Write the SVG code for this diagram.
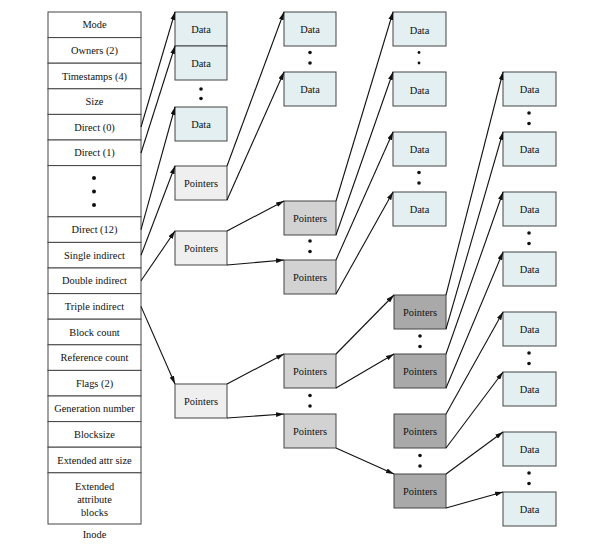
<svg xmlns="http://www.w3.org/2000/svg" width="600" height="544" viewBox="0 0 600 544">
<defs>
<marker id="ah" viewBox="0 0 10 6" refX="10" refY="3" markerWidth="8" markerHeight="5" markerUnits="userSpaceOnUse" orient="auto">
<path d="M0,0 L10,3 L0,6 z" fill="#111"/>
</marker>
</defs>
<style>
text{font-family:"Liberation Serif","Times New Roman",serif;font-size:10.4px;fill:#111;text-anchor:middle;dominant-baseline:central}
.row{fill:#fff;stroke:#444;stroke-width:1}
.data{fill:#e3eff0;stroke:#444;stroke-width:1}
.p1{fill:#efefef;stroke:#444;stroke-width:1}
.p2{fill:#d2d2d2;stroke:#444;stroke-width:1}
.p3{fill:#a9a9a9;stroke:#444;stroke-width:1}
.dot{fill:#111}
.c{stroke:#111;stroke-width:1.1;fill:none;marker-end:url(#ah)}
</style>
<rect width="600" height="544" fill="#fff"/>

<g id="inode">
<rect class="row" x="48" y="12" width="93" height="25.6"/><text x="94.5" y="24.8">Mode</text>
<rect class="row" x="48" y="37.6" width="93" height="25.6"/><text x="94.5" y="50.4">Owners (2)</text>
<rect class="row" x="48" y="63.2" width="93" height="25.6"/><text x="94.5" y="76">Timestamps (4)</text>
<rect class="row" x="48" y="88.8" width="93" height="25.6"/><text x="94.5" y="101.6">Size</text>
<rect class="row" x="48" y="114.4" width="93" height="25.6"/><text x="94.5" y="127.2">Direct (0)</text>
<rect class="row" x="48" y="140" width="93" height="25.6"/><text x="94.5" y="152.8">Direct (1)</text>
<rect class="row" x="48" y="165.6" width="93" height="51.2"/>
<circle class="dot" cx="94" cy="178" r="2"/><circle class="dot" cx="94" cy="191.5" r="2"/><circle class="dot" cx="94" cy="205" r="2"/>
<rect class="row" x="48" y="216.8" width="93" height="25.6"/><text x="94.5" y="229.6">Direct (12)</text>
<rect class="row" x="48" y="242.4" width="93" height="25.6"/><text x="94.5" y="255.2">Single indirect</text>
<rect class="row" x="48" y="268" width="93" height="25.6"/><text x="94.5" y="280.8">Double indirect</text>
<rect class="row" x="48" y="293.6" width="93" height="25.6"/><text x="94.5" y="306.4">Triple indirect</text>
<rect class="row" x="48" y="319.2" width="93" height="25.6"/><text x="94.5" y="332">Block count</text>
<rect class="row" x="48" y="344.8" width="93" height="25.6"/><text x="94.5" y="357.6">Reference count</text>
<rect class="row" x="48" y="370.4" width="93" height="25.6"/><text x="94.5" y="383.2">Flags (2)</text>
<rect class="row" x="48" y="396" width="93" height="25.6"/><text x="94.5" y="408.8">Generation number</text>
<rect class="row" x="48" y="421.6" width="93" height="25.6"/><text x="94.5" y="434.4">Blocksize</text>
<rect class="row" x="48" y="447.2" width="93" height="25.6"/><text x="94.5" y="460">Extended attr size</text>
<rect class="row" x="48" y="472.8" width="93" height="51.2"/>
<text x="94.5" y="486">Extended</text><text x="94.5" y="499">attribute</text><text x="94.5" y="512">blocks</text>
<text x="94.5" y="534">Inode</text>
</g>

<g id="col1">
<g id="d1a"><rect class="data" x="175" y="12" width="52" height="34"/><text x="201" y="29">Data</text></g>
<g id="d1b"><rect class="data" x="175" y="46" width="52" height="34"/><text x="201" y="63">Data</text></g>
<circle class="dot" cx="201" cy="89" r="1.8"/><circle class="dot" cx="201" cy="98.5" r="1.8"/>
<g id="d1c"><rect class="data" x="175" y="107" width="52" height="34"/><text x="201" y="124">Data</text></g>
<g id="p1a"><rect class="p1" x="175" y="166" width="52" height="34"/><text x="201" y="183">Pointers</text></g>
<g id="p1b"><rect class="p1" x="175" y="231" width="52" height="34"/><text x="201" y="248">Pointers</text></g>
<g id="p1c"><rect class="p1" x="175" y="384" width="52" height="34"/><text x="201" y="401">Pointers</text></g>
</g>

<g id="col2">
<g id="d2a"><rect class="data" x="284" y="12" width="52" height="34"/><text x="310" y="29">Data</text></g>
<circle class="dot" cx="310" cy="52.5" r="1.8"/><circle class="dot" cx="310" cy="63" r="1.8"/>
<g id="d2b"><rect class="data" x="284" y="72" width="52" height="34"/><text x="310" y="89">Data</text></g>
<g id="p2a"><rect class="p2" x="284" y="201" width="52" height="34"/><text x="310" y="218">Pointers</text></g>
<circle class="dot" cx="310" cy="241" r="1.8"/><circle class="dot" cx="310" cy="251.5" r="1.8"/>
<g id="p2b"><rect class="p2" x="284" y="260" width="52" height="34"/><text x="310" y="277">Pointers</text></g>
<g id="p2c"><rect class="p2" x="284" y="354" width="52" height="34"/><text x="310" y="371">Pointers</text></g>
<circle class="dot" cx="310" cy="395.5" r="1.8"/><circle class="dot" cx="310" cy="406" r="1.8"/>
<g id="p2d"><rect class="p2" x="284" y="414" width="52" height="34"/><text x="310" y="431">Pointers</text></g>
</g>

<g id="col3">
<g id="d3a"><rect class="data" x="393" y="12" width="53" height="34"/><text x="419.5" y="30">Data</text></g>
<circle class="dot" cx="419" cy="52.5" r="1.4"/><circle class="dot" cx="419" cy="63" r="1.4"/>
<g id="d3b"><rect class="data" x="393" y="72" width="53" height="34"/><text x="419.5" y="90">Data</text></g>
<g id="d3c"><rect class="data" x="393" y="132" width="53" height="34"/><text x="419.5" y="149">Data</text></g>
<circle class="dot" cx="419" cy="172.5" r="1.8"/><circle class="dot" cx="419" cy="183" r="1.8"/>
<g id="d3d"><rect class="data" x="393" y="192" width="53" height="34"/><text x="419.5" y="209">Data</text></g>
<g id="p3a"><rect class="p3" x="394" y="295" width="52" height="34"/><text x="420" y="312">Pointers</text></g>
<circle class="dot" cx="420" cy="336" r="1.8"/><circle class="dot" cx="420" cy="346.5" r="1.8"/>
<g id="p3b"><rect class="p3" x="394" y="354" width="52" height="34"/><text x="420" y="371">Pointers</text></g>
<g id="p3c"><rect class="p3" x="394" y="414" width="52" height="34"/><text x="420" y="431">Pointers</text></g>
<circle class="dot" cx="420" cy="455.5" r="1.8"/><circle class="dot" cx="420" cy="466" r="1.8"/>
<g id="p3d"><rect class="p3" x="394" y="474" width="52" height="34"/><text x="420" y="491">Pointers</text></g>
</g>

<g id="col4">
<g id="d4a"><rect class="data" x="503" y="72" width="53" height="34"/><text x="529.5" y="89">Data</text></g>
<circle class="dot" cx="529" cy="113" r="1.8"/><circle class="dot" cx="529" cy="123.5" r="1.8"/>
<g id="d4b"><rect class="data" x="503" y="132" width="53" height="34"/><text x="529.5" y="149">Data</text></g>
<g id="d4c"><rect class="data" x="503" y="192" width="53" height="34"/><text x="529.5" y="209">Data</text></g>
<circle class="dot" cx="529" cy="233" r="1.8"/><circle class="dot" cx="529" cy="243.5" r="1.8"/>
<g id="d4d"><rect class="data" x="503" y="252" width="53" height="34"/><text x="529.5" y="269">Data</text></g>
<g id="d4e"><rect class="data" x="503" y="312" width="53" height="34"/><text x="529.5" y="329">Data</text></g>
<circle class="dot" cx="529" cy="353" r="1.8"/><circle class="dot" cx="529" cy="363.5" r="1.8"/>
<g id="d4f"><rect class="data" x="503" y="372" width="53" height="34"/><text x="529.5" y="389">Data</text></g>
<g id="d4g"><rect class="data" x="503" y="432" width="53" height="34"/><text x="529.5" y="449">Data</text></g>
<circle class="dot" cx="529" cy="473" r="1.8"/><circle class="dot" cx="529" cy="483.5" r="1.8"/>
<g id="d4h"><rect class="data" x="503" y="492" width="53" height="34"/><text x="529.5" y="509">Data</text></g>
</g>

<g id="connectors">
<line class="c" x1="141" y1="127" x2="175" y2="12"/>
<line class="c" x1="141" y1="153" x2="175" y2="46"/>
<line class="c" x1="141" y1="229.6" x2="175" y2="107"/>
<line class="c" x1="141" y1="255.2" x2="175" y2="166"/>
<line class="c" x1="141" y1="280.8" x2="175" y2="231"/>
<line class="c" x1="141" y1="306.4" x2="175" y2="384"/>
<line class="c" x1="227" y1="166" x2="284" y2="12"/>
<line class="c" x1="227" y1="200" x2="284" y2="72"/>
<line class="c" x1="227" y1="231" x2="284" y2="201"/>
<line class="c" x1="227" y1="265" x2="284" y2="260"/>
<line class="c" x1="227" y1="384" x2="284" y2="354"/>
<line class="c" x1="227" y1="418" x2="284" y2="414"/>
<line class="c" x1="336" y1="201" x2="393" y2="12"/>
<line class="c" x1="336" y1="235" x2="393" y2="72"/>
<line class="c" x1="336" y1="260" x2="393" y2="132"/>
<line class="c" x1="336" y1="294" x2="393" y2="192"/>
<line class="c" x1="336" y1="354" x2="394" y2="295"/>
<line class="c" x1="336" y1="388" x2="394" y2="354"/>
<line class="c" x1="336" y1="448" x2="394" y2="474"/>
<line class="c" x1="446" y1="295" x2="503" y2="72"/>
<line class="c" x1="446" y1="329" x2="503" y2="132"/>
<line class="c" x1="446" y1="354" x2="503" y2="192"/>
<line class="c" x1="446" y1="388" x2="503" y2="252"/>
<line class="c" x1="446" y1="414" x2="503" y2="312"/>
<line class="c" x1="446" y1="448" x2="503" y2="372"/>
<line class="c" x1="446" y1="474" x2="503" y2="432"/>
<line class="c" x1="446" y1="508" x2="503" y2="492"/>
</g>
</svg>
